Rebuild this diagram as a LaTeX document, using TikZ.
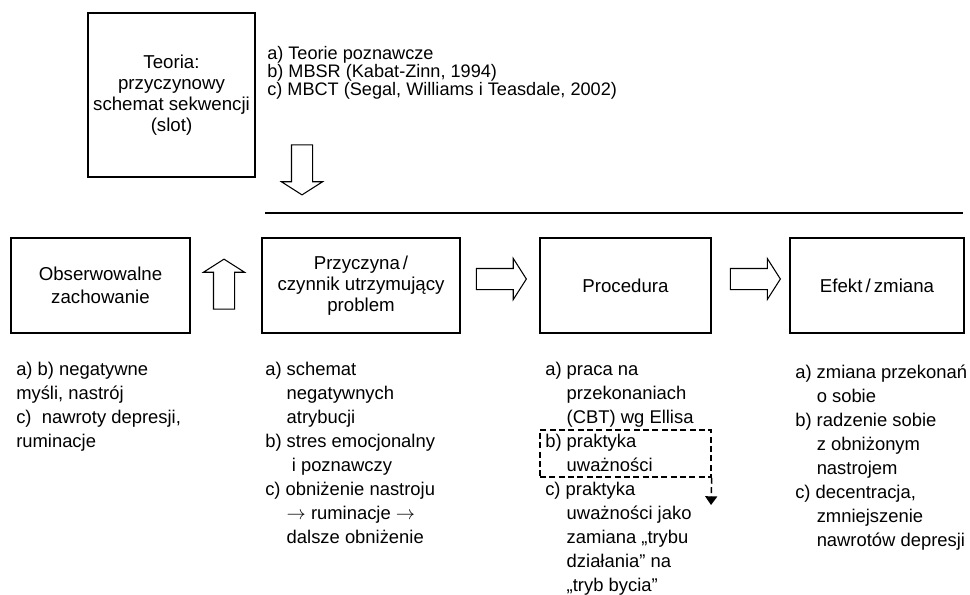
\documentclass[tikz,border=0pt]{standalone}
\usepackage{fontspec}
\setmainfont{Liberation Sans}
\usetikzlibrary{shapes.arrows,arrows.meta}
\newcommand{\ind}{\hphantom{a) }}
\newcommand{\rarr}{$\rightarrow$}

\begin{document}
\begin{tikzpicture}[x=0.75pt,y=-0.75pt,
  box/.style={draw,line width=0.8pt,inner sep=0pt,align=center,font=\fontsize{14}{15.5}\selectfont},
  list/.style={anchor=north west,inner sep=0pt,align=left,font=\fontsize{13.8}{18}\selectfont},
  blockarrow/.style={draw,line width=0.8pt,single arrow,inner xsep=0pt,inner ysep=7.5pt,
    single arrow head extend=7.5pt,single arrow tip angle=115,minimum height=37.5pt,minimum width=0pt},
  dashline/.style={line width=1.1pt,dash pattern=on 4.5pt off 2.5pt}]
\useasboundingbox (0,0) rectangle (970,594);

\node[box,minimum width=125.25pt,minimum height=123pt,font=\fontsize{14}{15.8}\selectfont] (teoria) at (171.5,95) {Teoria:\\przyczynowy\\schemat sekwencji\\(slot)};
\node[list,font=\fontsize{13.6}{13.3}\selectfont] (teorie) at (267,46.5) {a) Teorie poznawcze\\b) MBSR (Kabat-Zinn, 1994)\\c) MBCT (Segal, Williams i Teasdale, 2002)};
\node[blockarrow,rotate=-90] (down) at (302,166.5) {};

\coordinate (rulel) at (265,213);
\coordinate (ruler) at (963,213);
\draw[line width=1.8pt] (rulel) -- (ruler);

\node[box,minimum width=134.25pt,minimum height=71.25pt,font=\fontsize{14}{17}\selectfont] (obs) at (100.5,285.5) {Obserwowalne\\zachowanie};
\node[box,minimum width=148.5pt,minimum height=71.25pt] (przyczyna) at (361,285.5) {Przyczyna\,/\\czynnik utrzymujący\\problem};
\node[box,minimum width=128.25pt,minimum height=71.25pt] (procedura) at (625.5,285.5) {Procedura};
\node[box,minimum width=130.5pt,minimum height=71.25pt] (efekt) at (877,285.5) {Efekt\,/\,zmiana};

\node[blockarrow,rotate=90] (up) at (224,287.5) {};
\node[blockarrow] (right1) at (498,279) {};
\node[blockarrow] (right2) at (752,279) {};

\node[list] (obslist) at (16,361.5) {a) b) negatywne\\myśli, nastrój\\c)\ \ nawroty depresji,\\ruminacje};
\node[list] (przyczynalist) at (265,361.5) {a) schemat\\\ind negatywnych\\\ind atrybucji\\b) stres emocjonalny\\\ind\ i poznawczy\\c) obniżenie nastroju\\\ind\rarr{} ruminacje \rarr\\\ind dalsze obniżenie};
\node[list] (procedlist) at (545,361.5) {a) praca na\\\ind przekonaniach\\\ind (CBT) wg Ellisa\\b) praktyka\\\ind uważności\\c) praktyka\\\ind uważności jako\\\ind zamiana „trybu\\\ind działania” na\\\ind „tryb bycia”};
\node[list] (efektlist) at (795,364.5) {a) zmiana przekonań\\\ind o sobie\\b) radzenie sobie\\\ind z obniżonym\\\ind nastrojem\\c) decentracja,\\\ind zmniejszenie\\\ind nawrotów depresji};

\node[draw,dashline,inner sep=0pt,minimum width=128.25pt,minimum height=35.25pt] (uwaz) at (625.5,453.5) {};
\coordinate (uwazend) at (711,505);
\draw[dashline,-{Triangle[width=9pt,length=6.5pt]}] (uwaz.south east) -- (uwazend);
\end{tikzpicture}
\end{document}
